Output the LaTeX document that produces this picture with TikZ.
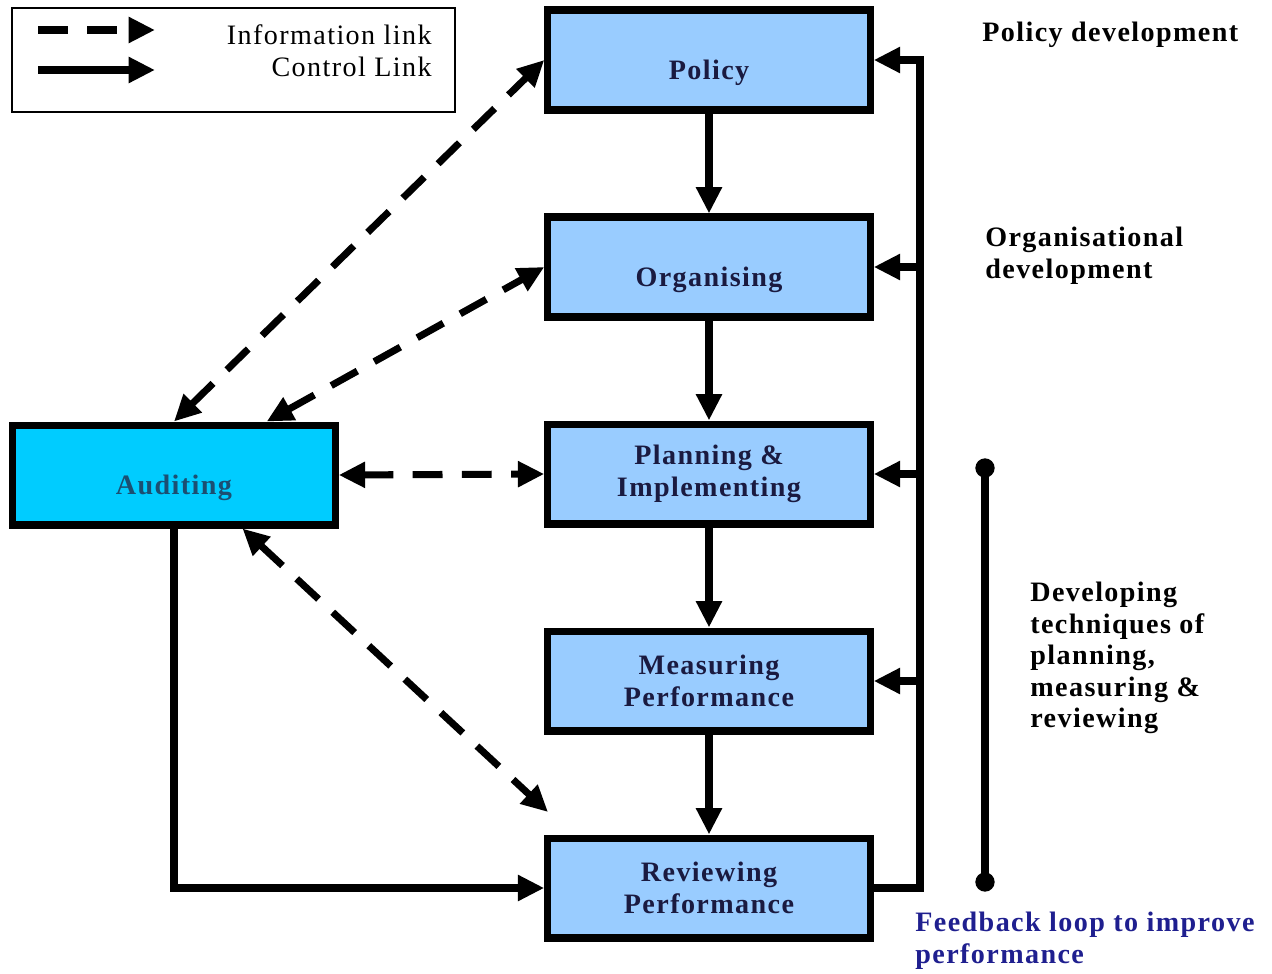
\documentclass[tikz,border=0pt]{standalone}
\usepackage{fontspec}
\setmainfont{Liberation Serif}
\newfontfamily\widefont[LetterSpace=5]{Liberation Serif}
\usetikzlibrary{arrows.meta}

\definecolor{boxblue}{HTML}{99CCFF}
\definecolor{auditcyan}{HTML}{00CCFF}
\definecolor{boxtext}{HTML}{1A1A40}
\definecolor{audittext}{HTML}{1B4F72}
\definecolor{loopblue}{HTML}{1F1F8F}

\begin{document}
\begin{tikzpicture}[x=0.02cm, y=-0.02cm,
    >={Triangle[length=15pt,width=14pt]},
    stage/.style={draw, line width=4pt, fill=boxblue, text=boxtext,
      minimum width=6.45cm, minimum height=2cm, align=center,
      font=\widefont\fontsize{16}{18}\selectfont\bfseries},
    oneline/.style={text height=26pt, text depth=3.5pt},
    ctrl/.style={line width=4pt, ->},
    info/.style={line width=4pt, dash pattern=on 17pt off 11pt, <->},
    note/.style={anchor=west, align=left, inner sep=0pt,
      font=\widefont\fontsize{16}{18}\selectfont\bfseries}]
    \path[use as bounding box] (0,0) rectangle (1272,974);

    % key
    \node[draw, line width=1pt, minimum width=8.86cm, minimum height=2.08cm] (key) at (233.5,60) {};
    \coordinate (k1) at (38,30);
    \coordinate (k2) at (155,30);
    \coordinate (k3) at (38,70);
    \coordinate (k4) at (155,70);
    \draw[info, -> ] (k1) -- (k2);
    \draw[ctrl] (k3) -- (k4);
    \node[anchor=east, inner sep=0pt, font=\widefont\fontsize{16}{18}\selectfont] (infolabel) at (432,35) {Information link};
    \node[anchor=east, inner sep=0pt, font=\widefont\fontsize{16}{18}\selectfont] (ctrllabel) at (432,67) {Control Link};

    % stages
    \node[stage, oneline] (policy) at (709,60) {Policy};
    \node[stage, oneline] (org) at (709,267) {Organising};
    \node[stage] (plan) at (709,474) {Planning \&\\Implementing};
    \node[stage] (meas) at (709,681) {Measuring\\Performance};
    \node[stage] (review) at (709,888) {Reviewing\\Performance};
    \node[stage, oneline, fill=auditcyan, text=audittext] (audit) at (174,475) {Auditing};

    \foreach \a/\b in {policy/org, org/plan, plan/meas, meas/review}
      \draw[ctrl] (\a) -- (\b);

    % feedback loop
    \coordinate (looptop) at (920,60);
    \draw[ctrl] (review.east) -| (looptop) -- (policy.east);
    \foreach \s in {org, plan, meas}
      \draw[ctrl] (\s.east -| looptop) -- (\s.east);

    % auditing links
    \coordinate (revtop) at (548,812);
    \draw[info] (audit.north) -- (policy.west);
    \draw[info] (audit.30) -- (org.west);
    \draw[info] (audit.east) -- (plan.west);
    \draw[info] (audit.-38) -- (revtop);
    \draw[ctrl] (audit.south) |- (review.west);

    % notes
    \node[note] (policydev) at (982,35) {Policy development};
    \node[note] (orgdev) at (985,256) {Organisational\\development};
    \coordinate (bartop) at (985,468);
    \coordinate (barbot) at (985,882);
    \draw[line width=4pt] (bartop) -- (barbot);
    \fill (bartop) circle (5.5pt);
    \fill (barbot) circle (5.5pt);
    \node[note] (techdev) at (1030,658) {Developing\\techniques of\\planning,\\measuring \&\\reviewing};
    \node[note, text=loopblue] (loopnote) at (915,941) {Feedback loop to improve\\performance};
  \end{tikzpicture}
\end{document}
